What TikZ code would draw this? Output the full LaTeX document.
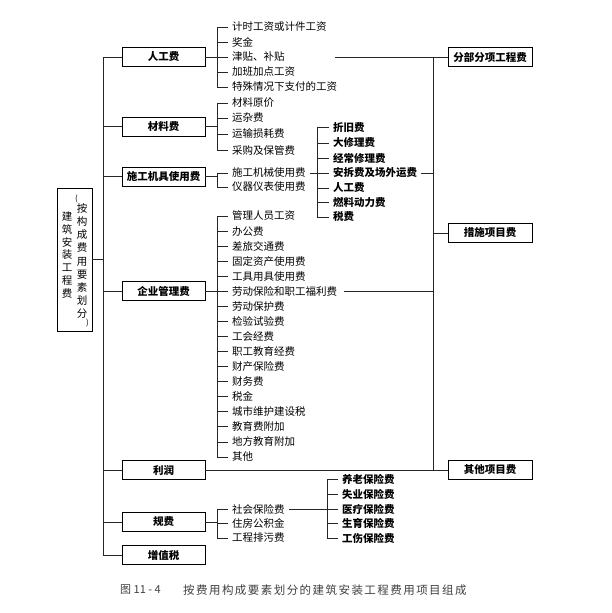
\documentclass[tikz,border=0pt]{standalone}
\usepackage{fontspec}
\newfontfamily\cjk{Noto Sans CJK SC}
\newcommand{\fs}{\fontsize{10.5}{12}\selectfont}
\begin{document}
\begin{tikzpicture}[x=1pt,y=-1pt,
  ln/.style={line width=0.5pt, black!85},
  box/.style={draw, line width=0.8pt, minimum width=83pt, minimum height=19pt, inner sep=0pt, font=\cjk\fs\bfseries},
  rbox/.style={box, minimum width=84pt},
  item/.style={anchor=west, inner xsep=4pt, inner ysep=0.5pt, font=\cjk\fs},
  itemb/.style={item, font=\cjk\fs\bfseries}
]
\useasboundingbox (0,0) rectangle (611,613);
\fill[white] (0,0) rectangle (611,613);

% root
\node[draw, line width=0.8pt, minimum width=35pt, minimum height=143pt, inner sep=0pt] (root) at (74.5,259.5) {};
\node[inner sep=0pt, align=center, font=\cjk\fontsize{10.5}{12.7}\selectfont] (rootA) at (67,255) {建\\筑\\安\\装\\工\\程\\费};
\node[inner sep=0pt, align=center, font=\cjk\fontsize{10.5}{13.1}\selectfont] (rootB) at (82,261) {按\\构\\成\\费\\用\\要\\素\\划\\分};
\node[inner sep=0pt, font=\cjk\fontsize{8}{8}\selectfont] (po) at (76.5,199) {(};
\node[inner sep=0pt, font=\cjk\fontsize{8}{8}\selectfont] (pc) at (87.5,323) {)};

% left trunk
\coordinate (tT) at (103,57);
\coordinate (tB) at (103,555);
\draw[ln] (tT) -- (tB);
\draw[ln] (root.east) -- (root.east -| tT);

% level-1 boxes
\node[box] (rg) at (163.5,57) {人工费};
\node[box] (cl) at (163.5,126.5) {材料费};
\node[box] (jj) at (163.5,176.5) {施工机具使用费};
\node[box] (qy) at (163.5,291.25) {企业管理费};
\node[box] (lr) at (163.5,470) {利润};
\node[box] (gf) at (163.5,522) {规费};
\node[box] (zz) at (163.5,555) {增值税};
\foreach \b in {rg,cl,jj,qy,lr,gf,zz} {\draw[ln] (\b.west -| tT) -- (\b.west);}

% right trunk and boxes
\coordinate (rT) at (433,57);
\coordinate (rB) at (433,470);
\draw[ln] (rT) -- (rB);
\node[rbox] (fb) at (490,57) {分部分项工程费};
\node[rbox] (cs) at (490,233) {措施项目费};
\node[rbox] (qt) at (490,470) {其他项目费};
\draw[ln] (rT) -- (fb.west);
\draw[ln] (cs.west -| rT) -- (cs.west);
\draw[ln] (lr.east) -- (qt.west);

% 人工费
\draw[ln] (rg.east) -- (217,57);
\draw[ln] (217,27) -- (217,87);
\foreach \t/\y [count=\i] in {计时工资或计件工资/27,奖金/42,津贴、补贴/57,加班加点工资/72,特殊情况下支付的工资/87}
  {\node[item] (rg\i) at (228,\y) {\t}; \draw[ln] (217,\y) -- (rg\i.west);}
\coordinate (jt) at (335,57);
\draw[ln] (jt) -- (rT);

% 材料费
\draw[ln] (cl.east) -- (217,126.5);
\draw[ln] (217,103) -- (217,150);
\foreach \t/\y [count=\i] in {材料原价/103,运杂费/118,运输损耗费/134,采购及保管费/150}
  {\node[item] (cl\i) at (228,\y) {\t}; \draw[ln] (217,\y) -- (cl\i.west);}

% 施工机具使用费
\draw[ln] (jj.east) -- (217,176.5);
\draw[ln] (217,173) -- (217,187);
\foreach \t/\y [count=\i] in {施工机械使用费/173,仪器仪表使用费/187}
  {\node[item] (jj\i) at (228,\y) {\t}; \draw[ln] (217,\y) -- (jj\i.west);}
\draw[ln] (jj1.east) -- (317,173);
\draw[ln] (317,127.5) -- (317,217);
\foreach \t/\y [count=\i] in {折旧费/127.5,大修理费/143,经常修理费/158,安拆费及场外运费/173,人工费/188,燃料动力费/202.5,税费/217}
  {\node[itemb] (jx\i) at (329,\y) {\t}; \draw[ln] (317,\y) -- (jx\i.west);}
\draw[ln] (jx4.east) -- (jx4.east -| rT);

% 企业管理费
\draw[ln] (qy.east) -- (217,291.25);
\draw[ln] (217,216) -- (217,456.8);
\foreach \t [count=\i] in {管理人员工资,办公费,差旅交通费,固定资产使用费,工具用具使用费,劳动保险和职工福利费,劳动保护费,检验试验费,工会经费,职工教育经费,财产保险费,财务费,税金,城市维护建设税,教育费附加,地方教育附加,其他}
  {\pgfmathsetmacro\yy{216+15.05*(\i-1)}
   \node[item] (qy\i) at (228,\yy) {\t}; \draw[ln] (217,\yy) -- (qy\i.west);}
\draw[ln] ([xshift=3pt]qy6.east) -- (qy6.east -| rT);

% 规费
\draw[ln] (gf.east) -- (217,522);
\draw[ln] (217,509) -- (217,538);
\foreach \t/\y [count=\i] in {社会保险费/509,住房公积金/523.5,工程排污费/538}
  {\node[item] (gf\i) at (228,\y) {\t}; \draw[ln] (217,\y) -- (gf\i.west);}
\draw[ln] (gf1.east) -- (327,509);
\draw[ln] (327,479) -- (327,538);
\foreach \t/\y [count=\i] in {养老保险费/479,失业保险费/494,医疗保险费/509,生育保险费/523.5,工伤保险费/538}
  {\node[itemb] (gx\i) at (338,\y) {\t}; \draw[ln] (327,\y) -- (gx\i.west);}

% caption
\node[anchor=west, inner sep=0pt, text=black!75, font=\cjk\fontsize{11}{12}\selectfont] (cap1) at (120,590) {图 11 - 4};
\node[anchor=west, inner sep=0pt, text=black!75, font=\cjk\fontsize{11.5}{12}\selectfont\addfontfeature{LetterSpace=12.6}] (cap2) at (183,590) {按费用构成要素划分的建筑安装工程费用项目组成};
\end{tikzpicture}
\end{document}
